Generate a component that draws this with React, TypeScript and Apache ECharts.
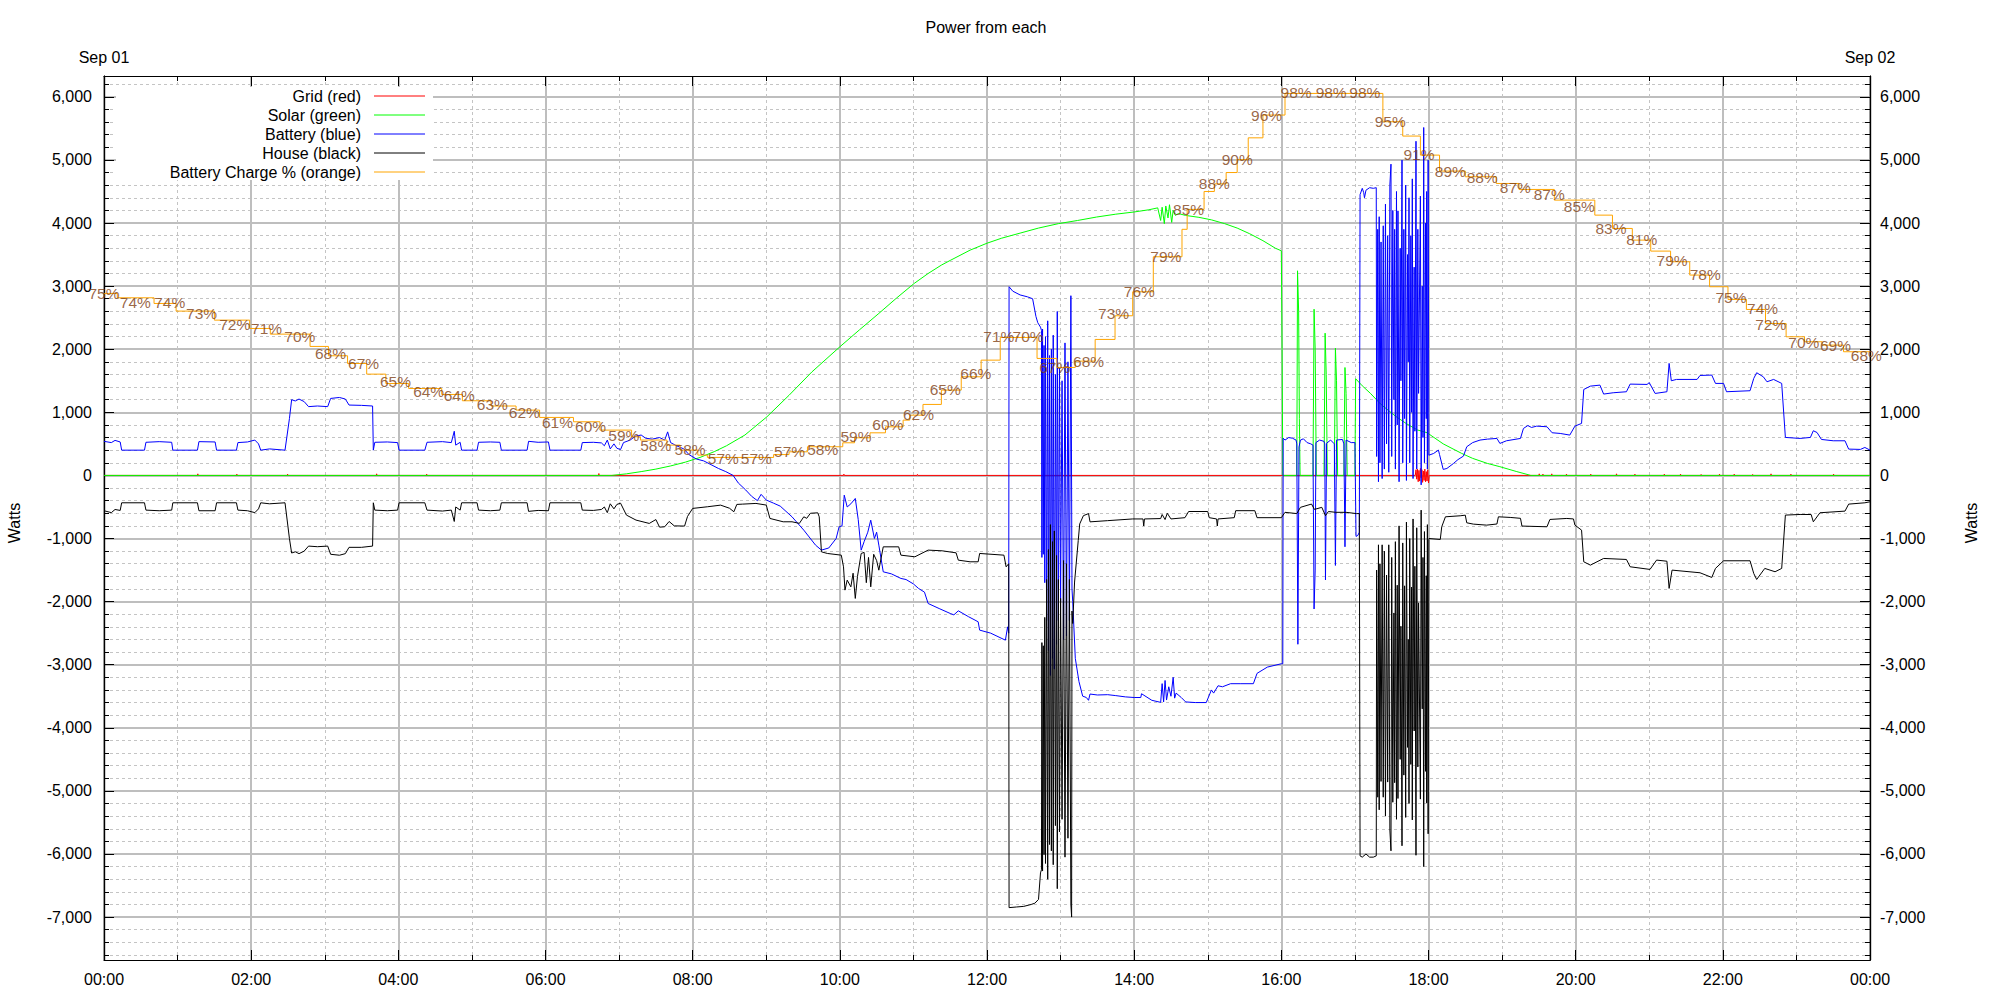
import React, { useEffect, useRef } from "react";
import * as echarts from "echarts";

const FONT = '"Liberation Sans", Arial, Helvetica, sans-serif';

const chartTitle = "Power from each";
const dateStart = "Sep 01";
const dateEnd = "Sep 02";
const yAxisName = "Watts";

const xMin = 0;
const xMax = 24;
const yMin = -7680;
const yMax = 6330;
const yMajorTicks = [-7000, -6000, -5000, -4000, -3000, -2000, -1000, 0, 1000, 2000, 3000, 4000, 5000, 6000];

const legendNames = ["Grid (red)", "Solar (green)", "Battery (blue)", "House (black)", "Battery Charge % (orange)"];
const legendColors = ["#ff0000", "#00ff00", "#0000ff", "#000000", "#ffa500"];

// [hour, watts]
const gridWatts: [number, number][] = [
  [0, 0], [1.27, 0], [1.275, 25], [1.28, 0], [1.8, 0], [1.805, 20], [1.81, 0], [2.49, 0], [2.495, 20], [2.5, 0],
  [3.7, 0], [3.705, 25], [3.71, 0], [4.38, 0], [4.385, 20], [4.39, 0], [6.72, 0], [6.725, 30], [6.73, 0],
  [10.05, 0], [10.055, 20], [10.06, 0], [11.05, 0], [11.055, 15], [11.06, 0],
  [17.82, 0], [17.83, 90], [17.84, -60], [17.85, 100], [17.86, -100], [17.87, 80], [17.88, -90], [17.89, 110],
  [17.9, -40], [17.91, 90], [17.92, -110], [17.93, 70], [17.94, -80], [17.95, 100], [17.96, -100], [17.97, 60],
  [17.98, -90], [17.99, 90], [18.0, -120], [18.01, 0],
  [19.5, 0], [19.505, 25], [19.51, 0], [19.55, 0], [19.555, 20], [19.56, 0], [19.67, 0], [19.675, 25], [19.68, 0],
  [19.87, 0], [19.875, 20], [19.88, 0], [20.2, 0], [20.205, 20], [20.21, 0], [20.55, 0], [20.555, 25], [20.56, 0],
  [20.8, 0], [20.805, 20], [20.81, 0], [21.2, 0], [21.205, 20], [21.21, 0], [21.42, 0], [21.425, 20], [21.43, 0],
  [21.7, 0], [21.705, 15], [21.71, 0], [21.95, 0], [21.955, 20], [21.96, 0], [22.15, 0], [22.155, 20], [22.16, 0],
  [22.4, 0], [22.405, 15], [22.41, 0], [22.65, 0], [22.655, 25], [22.66, 0], [22.92, 0], [22.925, 20], [22.93, 0],
  [23.5, 0], [23.505, 20], [23.51, 0], [24, 0],
];

const solarWatts: [number, number][] = [
  [0, 0], [6.9, 0], [7.1, 25], [7.3, 60], [7.5, 100], [7.7, 150], [7.9, 210], [8.1, 285], [8.3, 380], [8.46, 470],
  [8.71, 640], [9.01, 930], [9.31, 1270], [9.62, 1640], [10.0, 2038], [10.27, 2310], [10.53, 2567], [10.77, 2810],
  [11.01, 3042], [11.2, 3200], [11.38, 3333], [11.5, 3407], [11.77, 3570], [12.0, 3680], [12.2, 3760], [12.45, 3840],
  [12.7, 3920], [12.97, 3990], [13.23, 4040], [13.49, 4095], [13.75, 4140], [14.0, 4175], [14.2, 4210], [14.32, 4240],
  [14.36, 4040], [14.38, 4250], [14.41, 3990], [14.43, 4270], [14.46, 4080], [14.48, 4290], [14.51, 4010],
  [14.53, 4200], [14.56, 4120], [14.6, 4150], [14.7, 4120], [14.88, 4090], [15.05, 4050], [15.23, 3990],
  [15.4, 3920], [15.57, 3830], [15.75, 3720], [15.92, 3600], [16.0, 3560], [16.01, 2000], [16.02, 0],
  [16.21, 0], [16.22, 3243], [16.235, 2600], [16.245, 900], [16.255, 0],
  [16.43, 0], [16.445, 2634], [16.46, 2000], [16.475, 0],
  [16.58, 0], [16.595, 2254], [16.61, 1600], [16.625, 0],
  [16.72, 0], [16.735, 2017], [16.75, 1500], [16.765, 0],
  [16.85, 0], [16.865, 1710], [16.88, 1300], [16.895, 0],
  [17.0, 0], [17.01, 1532], [17.1, 1420], [17.21, 1301], [17.35, 1130], [17.55, 940], [17.7, 820], [17.85, 720],
  [17.98, 677], [18.2, 500], [18.45, 349], [18.6, 270], [18.8, 190], [18.97, 138], [19.2, 60], [19.39, 0], [24, 0],
];

const batteryWatts: [number, number][] = [
  [0, 540], [0.1, 520], [0.15, 555], [0.22, 530], [0.24, 400], [0.55, 400], [0.57, 525], [0.75, 535], [0.92, 525],
  [0.935, 400], [1.27, 400], [1.29, 535], [1.51, 530], [1.53, 400], [1.8, 400], [1.82, 520], [1.95, 530], [2.05, 560],
  [2.1, 500], [2.13, 400], [2.25, 420], [2.46, 400], [2.52, 900], [2.55, 1200], [2.6, 1180], [2.65, 1210], [2.72, 1170],
  [2.78, 1090], [2.9, 1100], [3.04, 1090], [3.08, 1220], [3.2, 1235], [3.28, 1210], [3.33, 1115], [3.5, 1110],
  [3.65, 1100], [3.66, 400], [3.68, 525], [3.85, 530], [3.99, 520], [4.01, 400], [4.36, 400], [4.39, 525], [4.6, 535],
  [4.72, 520], [4.76, 700], [4.78, 480], [4.84, 525], [4.86, 400], [5.07, 400], [5.09, 525], [5.25, 530], [5.38, 525],
  [5.4, 400], [5.75, 400], [5.77, 540], [5.9, 525], [6.04, 530], [6.06, 400], [6.48, 400], [6.5, 520], [6.65, 525],
  [6.76, 515], [6.8, 470], [6.84, 560], [6.88, 420], [6.93, 500], [6.97, 430], [7.02, 410], [7.06, 520], [7.15, 560],
  [7.22, 620], [7.3, 640], [7.36, 590], [7.45, 575], [7.55, 600], [7.62, 560], [7.66, 690], [7.7, 520], [7.78, 470],
  [7.88, 420], [7.95, 330], [8.05, 260], [8.15, 230], [8.25, 170], [8.35, 110], [8.45, 60], [8.55, 0], [8.62, -120],
  [8.72, -230], [8.8, -330], [8.88, -400], [8.93, -300], [9.0, -390], [9.1, -440], [9.19, -487], [9.35, -656],
  [9.51, -867], [9.67, -1105], [9.75, -1184], [9.85, -1150], [9.95, -1000], [9.99, -815], [10.03, -800], [10.06, -313],
  [10.1, -500], [10.15, -450], [10.21, -365], [10.25, -700], [10.29, -1184], [10.33, -1050], [10.38, -900],
  [10.42, -709], [10.47, -1000], [10.5, -900], [10.53, -1105], [10.59, -1528], [10.7, -1560], [10.83, -1633],
  [10.9, -1650], [11.0, -1720], [11.07, -1792], [11.15, -1850], [11.2, -2030], [11.35, -2110], [11.5, -2188],
  [11.55, -2210], [11.61, -2146], [11.75, -2240], [11.88, -2320], [11.9, -2452], [12.05, -2500], [12.25, -2611],
  [12.28, -2400], [12.295, -2500],
  [12.3, 2990], [12.35, 2920], [12.45, 2860], [12.55, 2830], [12.62, 2800], [12.665, 2520], [12.69, 2420],
  [12.727, 2350], [12.74, 2300], [12.746, -1300], [12.755, 2320], [12.765, -1250], [12.775, 2060], [12.785, -1700],
  [12.795, 2200], [12.81, -2300], [12.825, 2450], [12.835, -2775], [12.85, 1900], [12.862, -3170], [12.875, 2000],
  [12.89, -2900], [12.9, 2223], [12.915, -3070], [12.93, 1600], [12.945, -2676], [12.955, 2598], [12.97, -2300],
  [12.985, 1700], [13.0, -2000], [13.02, 1500], [13.04, -2600], [13.06, 2100], [13.08, -2545], [13.1, 1800],
  [13.12, -2300], [13.14, 2848], [13.155, -1800], [13.165, -2000], [13.2, -2900], [13.25, -3268], [13.3, -3498],
  [13.35, -3520], [13.38, -3564], [13.4, -3465], [13.5, -3480], [13.64, -3475], [13.75, -3490], [13.88, -3510],
  [14.0, -3520], [14.09, -3520], [14.1, -3460], [14.24, -3564], [14.36, -3597], [14.38, -3300], [14.4, -3590],
  [14.42, -3250], [14.44, -3560], [14.47, -3350], [14.5, -3500], [14.53, -3200], [14.55, -3530], [14.57, -3450],
  [14.64, -3520], [14.7, -3590], [14.83, -3600], [14.98, -3600], [15.05, -3400], [15.08, -3450], [15.14, -3334],
  [15.2, -3350], [15.31, -3301], [15.45, -3301], [15.62, -3301], [15.67, -3137], [15.81, -3038], [16.0, -2985],
  [16.02, -2985],
  [16.025, 590], [16.05, 560], [16.1, 600], [16.15, 590], [16.2, 560], [16.21, 500], [16.225, -2676], [16.24, 450],
  [16.26, 560], [16.3, 580], [16.35, 520], [16.4, 500], [16.43, 480], [16.445, -2117], [16.46, -1500], [16.47, 520],
  [16.52, 560], [16.58, 540], [16.59, 500], [16.6, -1657], [16.615, 510], [16.67, 560], [16.72, 500], [16.735, -1427],
  [16.75, 560], [16.83, 570], [16.85, 500], [16.865, -1131], [16.88, 560], [16.95, 520], [17.0, 520], [17.015, -967],
  [17.04, -950], [17.06, -900],
  [17.07, 4450], [17.1, 4550], [17.12, 4480], [17.13, 4400], [17.15, 4520], [17.2, 4560], [17.25, 4550], [17.29, 4560],
  [17.295, 300], [17.31, 3900], [17.32, -100], [17.33, 4100], [17.34, 200], [17.355, 3700], [17.37, -50],
  [17.385, 3956], [17.4, 100], [17.415, 4300], [17.43, 500], [17.445, 3800], [17.46, 50], [17.475, 4600],
  [17.49, 4933], [17.5, 300], [17.515, 4200], [17.53, 1200], [17.54, 3900], [17.55, 100], [17.565, 4500],
  [17.575, 800], [17.585, 4193], [17.6, -100], [17.615, 3600], [17.625, 1500], [17.64, 4997], [17.65, 200],
  [17.665, 3900], [17.675, 900], [17.69, 4600], [17.7, -80], [17.715, 3500], [17.725, 1800], [17.735, 4400],
  [17.745, 200], [17.76, 3800], [17.77, 1000], [17.78, 4700], [17.79, -50], [17.805, 3300], [17.815, 700],
  [17.83, 5296], [17.84, 100], [17.855, 3900], [17.865, 1300], [17.89, 4426], [17.9, -150], [17.915, 3000],
  [17.925, 600], [17.935, 5514], [17.945, 200], [17.96, 4000], [17.97, 900], [17.975, 4500], [17.985, 100],
  [17.995, 4997], [18.005, 320],
  [18.07, 348], [18.135, 401], [18.15, 330], [18.2, 95], [18.25, 110], [18.34, 190], [18.4, 250], [18.475, 306],
  [18.52, 454], [18.6, 520], [18.7, 560], [18.8, 575], [18.93, 586], [18.97, 507], [19.06, 549], [19.25, 586],
  [19.29, 744], [19.35, 790], [19.4, 760], [19.47, 781], [19.61, 771], [19.68, 676], [19.79, 665], [19.92, 639],
  [19.99, 781], [20.08, 824], [20.11, 1362], [20.2, 1415], [20.33, 1431], [20.38, 1289], [20.51, 1310], [20.69, 1326],
  [20.74, 1447], [20.97, 1442], [21.0, 1470], [21.08, 1299], [21.24, 1326], [21.27, 1775], [21.3, 1500], [21.37, 1521],
  [21.65, 1521], [21.69, 1584], [21.85, 1590], [21.9, 1458], [22.01, 1458], [22.05, 1326], [22.37, 1342], [22.42, 1537],
  [22.46, 1627], [22.55, 1563], [22.6, 1484], [22.69, 1521], [22.8, 1458], [22.85, 602], [23.05, 586], [23.19, 602],
  [23.23, 708], [23.28, 680], [23.34, 570], [23.5, 549], [23.66, 549], [23.71, 417], [23.87, 412], [23.93, 443],
  [24.0, 401],
];

const houseWatts: [number, number][] = [
  [0, -560], [0.1, -590], [0.15, -540], [0.22, -555], [0.24, -434], [0.55, -434], [0.57, -550], [0.75, -560],
  [0.92, -550], [0.935, -434], [1.27, -434], [1.29, -560], [1.51, -560], [1.53, -434], [1.8, -434], [1.82, -550],
  [1.95, -560], [2.05, -590], [2.1, -530], [2.13, -434], [2.25, -450], [2.46, -434], [2.52, -1000], [2.55, -1230],
  [2.6, -1210], [2.65, -1240], [2.72, -1200], [2.78, -1120], [2.9, -1130], [3.04, -1120], [3.08, -1250], [3.2, -1265],
  [3.28, -1240], [3.33, -1140], [3.5, -1140], [3.65, -1120], [3.66, -434], [3.68, -550], [3.85, -560], [3.99, -550],
  [4.01, -434], [4.36, -434], [4.39, -550], [4.6, -565], [4.72, -550], [4.76, -730], [4.78, -500], [4.84, -550],
  [4.86, -434], [5.07, -434], [5.09, -550], [5.25, -560], [5.38, -550], [5.4, -434], [5.75, -434], [5.77, -570],
  [5.9, -555], [6.04, -560], [6.06, -434], [6.48, -434], [6.5, -550], [6.65, -555], [6.76, -540], [6.8, -500],
  [6.84, -590], [6.88, -450], [6.93, -530], [6.97, -460], [7.02, -440], [7.1, -629], [7.23, -708], [7.41, -761],
  [7.5, -700], [7.55, -820], [7.62, -814], [7.68, -730], [7.75, -800], [7.89, -803], [7.93, -650], [8.0, -523],
  [8.2, -497], [8.38, -471], [8.5, -520], [8.56, -576], [8.6, -460], [8.68, -455], [8.86, -444], [9.0, -470],
  [9.05, -682], [9.23, -735], [9.35, -735], [9.45, -760], [9.51, -656], [9.55, -680], [9.6, -600], [9.7, -593],
  [9.72, -656], [9.75, -1211], [9.83, -1237], [10.02, -1264], [10.05, -1449], [10.07, -1818], [10.1, -1660],
  [10.15, -1766], [10.18, -1550], [10.21, -1950], [10.24, -1600], [10.29, -1237], [10.33, -1220], [10.36, -1700],
  [10.39, -1300], [10.42, -1766], [10.46, -1250], [10.5, -1350], [10.53, -1502], [10.59, -1132], [10.8, -1132],
  [10.83, -1264], [11.02, -1290], [11.2, -1184], [11.39, -1195], [11.58, -1227], [11.61, -1343], [11.77, -1369],
  [11.88, -1369], [11.9, -1237], [12.23, -1264], [12.26, -1449], [12.295, -1400],
  [12.3, -6850], [12.4, -6840], [12.5, -6830], [12.6, -6800], [12.65, -6780], [12.7, -6720], [12.727, -6300],
  [12.74, -6250], [12.746, -2650], [12.755, -6270], [12.765, -2700], [12.775, -6010], [12.785, -2250], [12.795, -6150],
  [12.81, -1650], [12.825, -6400], [12.835, -1175], [12.85, -5850], [12.862, -780], [12.875, -5950], [12.89, -1050],
  [12.9, -6170], [12.915, -880], [12.93, -5550], [12.945, -1270], [12.955, -6550], [12.97, -1650], [12.985, -5650],
  [13.0, -1950], [13.02, -5450], [13.04, -1350], [13.06, -6050], [13.08, -1400], [13.1, -5750], [13.12, -1650],
  [13.14, -6800], [13.15, -7000], [13.155, -2150], [13.165, -2347], [13.19, -1690], [13.24, -1032], [13.26, -769],
  [13.31, -638], [13.38, -605], [13.4, -736], [13.64, -717], [13.98, -690], [14.12, -690], [14.13, -802],
  [14.14, -690], [14.36, -684], [14.38, -620], [14.42, -700], [14.45, -600], [14.5, -690], [14.69, -670],
  [14.74, -572], [15.0, -572], [15.02, -670], [15.12, -690], [15.13, -802], [15.14, -690], [15.36, -670],
  [15.38, -559], [15.64, -559], [15.67, -670], [16.0, -670], [16.05, -585], [16.21, -605], [16.26, -506],
  [16.41, -454], [16.45, -539], [16.55, -506], [16.6, -638], [16.64, -572], [16.74, -585], [16.88, -585],
  [17.02, -605], [17.06, -605],
  [17.07, -6030], [17.1, -6050], [17.15, -6000], [17.2, -6050], [17.25, -6050], [17.29, -6030],
  [17.295, -1500], [17.31, -5100], [17.32, -1100], [17.33, -5300], [17.34, -1400], [17.355, -4850], [17.37, -1100],
  [17.385, -5100], [17.4, -1200], [17.415, -5400], [17.43, -1580], [17.445, -4860], [17.46, -1100], [17.475, -5620],
  [17.49, -5950], [17.5, -1300], [17.515, -5180], [17.53, -2180], [17.54, -4870], [17.55, -1050], [17.565, -5450],
  [17.575, -1740], [17.585, -5120], [17.6, -800], [17.615, -4500], [17.625, -2390], [17.64, -5870], [17.65, -1070],
  [17.665, -4750], [17.675, -1750], [17.69, -5420], [17.7, -740], [17.715, -4310], [17.725, -2600], [17.735, -5200],
  [17.745, -1000], [17.76, -4580], [17.77, -1770], [17.78, -5460], [17.79, -690], [17.805, -4050], [17.815, -1440],
  [17.83, -6020], [17.84, -830], [17.855, -4620], [17.865, -2020], [17.89, -5130], [17.9, -550], [17.915, -3700],
  [17.925, -1300], [17.935, -6200], [17.945, -890], [17.96, -4690], [17.97, -1590], [17.975, -5190], [17.985, -780],
  [17.995, -5680], [18.005, -1000],
  [18.16, -1015], [18.18, -814], [18.23, -656], [18.43, -640], [18.5, -630], [18.52, -751], [18.61, -772],
  [18.79, -788], [18.93, -770], [18.95, -656], [19.11, -666], [19.25, -680], [19.27, -803], [19.61, -814],
  [19.65, -698], [19.88, -682], [19.97, -690], [19.99, -788], [20.08, -867], [20.11, -1369], [20.2, -1422],
  [20.38, -1316], [20.69, -1332], [20.74, -1448], [21.01, -1490], [21.1, -1342], [21.24, -1360], [21.27, -1791],
  [21.31, -1501], [21.69, -1543], [21.85, -1617], [21.9, -1474], [22.01, -1353], [22.37, -1353], [22.42, -1554],
  [22.46, -1649], [22.57, -1474], [22.71, -1527], [22.8, -1474], [22.85, -629], [23.05, -619], [23.2, -620],
  [23.23, -735], [23.32, -592], [23.66, -566], [23.71, -455], [23.93, -434], [24.0, -418],
];

// step line (level starts at hour) in the chart's watt scale
const chargeLevels: [number, number][] = [
  [0, 2884], [0.18, 2815], [0.68, 2725], [0.98, 2604], [1.5, 2461], [1.98, 2329], [2.26, 2239], [2.8, 2044],
  [3.05, 1896], [3.31, 1774], [3.57, 1605], [3.83, 1457], [4.14, 1378], [4.59, 1283], [4.87, 1183], [5.26, 1100],
  [5.6, 1035], [5.92, 919], [6.38, 850], [6.74, 718], [7.17, 612], [7.29, 560], [7.65, 480], [7.83, 401], [8.07, 322],
  [8.2, 285], [9.1, 330], [9.31, 374], [9.56, 454], [10.04, 517], [10.2, 596], [10.41, 675], [10.62, 770],
  [10.86, 876], [10.95, 955], [11.13, 1125], [11.38, 1352], [11.65, 1563], [11.92, 1827], [12.18, 2186],
  [12.68, 1854], [12.95, 1711], [13.2, 1811], [13.47, 2155], [13.74, 2530], [13.98, 2910], [14.26, 3465],
  [14.65, 3900], [14.72, 4216], [14.95, 4500], [15.09, 4620], [15.25, 4800], [15.4, 5004], [15.55, 5350],
  [15.75, 5711], [16.05, 6054], [17.38, 5605], [17.65, 5378], [17.89, 5076], [18.15, 4823], [18.5, 4733],
  [18.92, 4627], [19.23, 4532], [19.71, 4363], [20.26, 4125], [20.5, 3914], [20.77, 3729], [21.02, 3555],
  [21.29, 3386], [21.55, 3175], [21.82, 2990], [22.07, 2789], [22.32, 2630], [22.58, 2408], [22.86, 2197],
  [23.11, 2118], [23.35, 2065], [23.64, 1960], [24, 1960],
];

// [hour, position, text]
const chargeLabels: [number, number, string][] = [
  [0, 2882, "75%"], [0.425, 2740, "74%"], [0.893, 2740, "74%"], [1.326, 2559, "73%"], [1.777, 2397, "72%"],
  [2.21, 2336, "71%"], [2.661, 2195, "70%"], [3.077, 1932, "68%"], [3.528, 1770, "67%"], [3.961, 1487, "65%"],
  [4.412, 1326, "64%"], [4.828, 1265, "64%"], [5.278, 1124, "63%"], [5.712, 1002, "62%"], [6.162, 841, "61%"],
  [6.613, 780, "60%"], [7.064, 639, "59%"], [7.497, 477, "58%"], [7.965, 416, "58%"], [8.416, 275, "57%"],
  [8.866, 275, "57%"], [9.317, 376, "57%"], [9.768, 416, "58%"], [10.219, 618, "59%"], [10.652, 800, "60%"],
  [11.068, 962, "62%"], [11.432, 1366, "65%"], [11.848, 1609, "66%"], [12.16, 2195, "71%"], [12.559, 2195, "70%"],
  [12.92, 1710, "67%"], [13.38, 1811, "68%"], [13.72, 2559, "73%"], [14.07, 2922, "76%"], [14.43, 3468, "79%"],
  [14.74, 4216, "85%"], [15.09, 4620, "88%"], [15.4, 5004, "90%"], [15.8, 5711, "96%"], [16.2, 6075, "98%"],
  [16.677, 6069, "98%"], [17.135, 6069, "98%"], [17.48, 5610, "95%"], [17.87, 5085, "91%"], [18.296, 4822, "89%"],
  [18.73, 4721, "88%"], [19.18, 4559, "87%"], [19.64, 4458, "87%"], [20.05, 4266, "85%"], [20.48, 3913, "83%"],
  [20.897, 3741, "81%"], [21.31, 3407, "79%"], [21.76, 3185, "78%"], [22.11, 2821, "75%"], [22.54, 2639, "74%"],
  [22.65, 2397, "72%"], [23.1, 2114, "70%"], [23.53, 2063, "69%"], [23.95, 1900, "68%"],
];

const minorYTicks: number[] = [];
for (let v = -7600; v <= 6200; v += 200) if (v % 1000 !== 0) minorYTicks.push(v);

const fmtWatts = (v: number) => {
  const a = Math.abs(v);
  const s = a >= 1000 ? Math.floor(a / 1000) + "," + String(a % 1000).padStart(3, "0") : String(a);
  return (v < 0 ? "-" : "") + s;
};
const fmtHour = (v: number) => {
  const h = Math.round(v) % 24;
  return (h < 10 ? "0" : "") + h + ":00";
};

const GRID_LEFT = 104;
const GRID_TOP = 76;
const GRID_RIGHT_X = 1870;
const GRID_BOTTOM_Y = 960;
const MAJOR_GRID = { color: "#bebebe", width: 2 };
const MINOR_GRID = { color: "#c4c4c4", width: 1, type: [3, 3] as number[] };
const TXT = { color: "#000", fontSize: 16, fontFamily: FONT };

function buildOption() {
  const lineSeries = (name: string, data: [number, number][], color: string, extra: any = {}) => ({
    type: "line",
    name,
    data,
    showSymbol: false,
    symbol: "none",
    silent: true,
    color,
    lineStyle: { color, width: 1 },
    emphasis: { disabled: true },
    ...extra,
  });

  const yBase = {
    type: "value",
    min: yMin,
    max: yMax,
    axisLine: { show: true, onZero: false, lineStyle: { color: "#000", width: 1.2 } },
  };

  const legendGraphics: any[] = [
    { type: "rect", shape: { x: 116, y: 87, width: 317, height: 93 }, style: { fill: "#fff" }, z: 1, silent: true },
  ];
  legendNames.forEach((name, i) => {
    const y = 96 + i * 19;
    legendGraphics.push({
      type: "text",
      x: 361,
      y,
      z: 2,
      style: { text: name, fill: "#000", font: `16px ${FONT}`, align: "right", verticalAlign: "middle", textAlign: "right", textVerticalAlign: "middle" },
    });
    legendGraphics.push({
      type: "line",
      z: 2,
      shape: { x1: 374, y1: y, x2: 425, y2: y },
      style: { stroke: legendColors[i], lineWidth: 1 },
    });
  });

  return {
    animation: false,
    backgroundColor: "#ffffff",
    textStyle: { fontFamily: FONT },
    title: {
      text: chartTitle,
      left: 986,
      top: 19,
      padding: 0,
      textAlign: "center",
      textStyle: { fontSize: 16, fontWeight: "normal", color: "#000", fontFamily: FONT },
    },
    grid: {
      left: GRID_LEFT,
      top: GRID_TOP,
      right: 2000 - GRID_RIGHT_X,
      bottom: 1000 - GRID_BOTTOM_Y,
      containLabel: false,
    },
    xAxis: [
      {
        type: "value",
        position: "bottom",
        min: xMin,
        max: xMax,
        interval: 2,
        axisLine: { show: true, onZero: false, lineStyle: { color: "#000", width: 1.2 } },
        axisTick: { show: true, inside: true, length: 10, lineStyle: { color: "#000" } },
        minorTick: { show: true, splitNumber: 2, length: 5, lineStyle: { color: "#000" } },
        axisLabel: { ...TXT, margin: 11, formatter: fmtHour },
        splitLine: { show: true, lineStyle: MAJOR_GRID },
        minorSplitLine: { show: true, lineStyle: MINOR_GRID },
      },
      {
        type: "value",
        position: "top",
        min: xMin,
        max: xMax,
        interval: 2,
        axisLine: { show: true, onZero: false, lineStyle: { color: "#000", width: 1.2 } },
        axisTick: { show: true, inside: true, length: 10, lineStyle: { color: "#000" } },
        minorTick: { show: true, splitNumber: 2, length: 5, lineStyle: { color: "#000" } },
        axisLabel: {
          ...TXT,
          margin: 11,
          customValues: [xMin, xMax],
          formatter: (v: number) => (v === xMin ? dateStart : v === xMax ? dateEnd : ""),
        },
        splitLine: { show: false },
      },
    ],
    yAxis: [
      {
        ...yBase,
        position: "left",
        axisTick: { show: true, inside: true, length: 10, customValues: yMajorTicks, lineStyle: { color: "#000" } },
        axisLabel: { ...TXT, margin: 12, customValues: yMajorTicks, formatter: fmtWatts },
        splitLine: { show: true, lineStyle: MAJOR_GRID },
      },
      {
        ...yBase,
        position: "left",
        axisTick: { show: true, inside: true, length: 5, customValues: minorYTicks, lineStyle: { color: "#000" } },
        axisLabel: { show: false },
        splitLine: { show: true, lineStyle: MINOR_GRID },
      },
      {
        ...yBase,
        position: "right",
        axisTick: { show: true, inside: true, length: 10, customValues: yMajorTicks, lineStyle: { color: "#000" } },
        axisLabel: { ...TXT, margin: 10, customValues: yMajorTicks, formatter: fmtWatts },
        splitLine: { show: false },
      },
      {
        ...yBase,
        position: "right",
        axisTick: { show: true, inside: true, length: 5, customValues: minorYTicks, lineStyle: { color: "#000" } },
        axisLabel: { show: false },
        splitLine: { show: false },
      },
    ],
    graphic: [
      ...legendGraphics,
      {
        type: "text",
        x: 14,
        y: 523,
        rotation: Math.PI / 2,
        style: { text: yAxisName, fill: "#000", font: `16px ${FONT}`, align: "center", verticalAlign: "middle", textAlign: "center", textVerticalAlign: "middle" },
      },
      {
        type: "text",
        x: 1971,
        y: 523,
        rotation: Math.PI / 2,
        style: { text: yAxisName, fill: "#000", font: `16px ${FONT}`, align: "center", verticalAlign: "middle", textAlign: "center", textVerticalAlign: "middle" },
      },
    ],
    series: [
      lineSeries(legendNames[0], gridWatts, legendColors[0]),
      lineSeries(legendNames[1], solarWatts, legendColors[1]),
      lineSeries(legendNames[2], batteryWatts, legendColors[2]),
      lineSeries(legendNames[3], houseWatts, legendColors[3]),
      lineSeries(legendNames[4], chargeLevels, legendColors[4], { step: "end" }),
      {
        type: "scatter",
        name: "Battery Charge % labels",
        data: chargeLabels,
        symbolSize: 1,
        silent: true,
        itemStyle: { color: "rgba(0,0,0,0)" },
        emphasis: { disabled: true },
        label: {
          show: true,
          position: "inside",
          formatter: (p: any) => p.value[2],
          color: "#804014",
          fontSize: 15.5,
          fontFamily: FONT,
        },
        z: 5,
      },
    ],
  };
}

export default function App() {
  const ref = useRef<HTMLDivElement>(null);
  useEffect(() => {
    if (!ref.current) return;
    const chart = echarts.init(ref.current, null, { renderer: "svg" });
    chart.setOption(buildOption() as any);
    return () => chart.dispose();
  }, []);
  return (
    <div
      ref={ref}
      style={{ position: "fixed", left: 0, top: 0, width: 2000, height: 1000, background: "#fff" }}
    />
  );
}
